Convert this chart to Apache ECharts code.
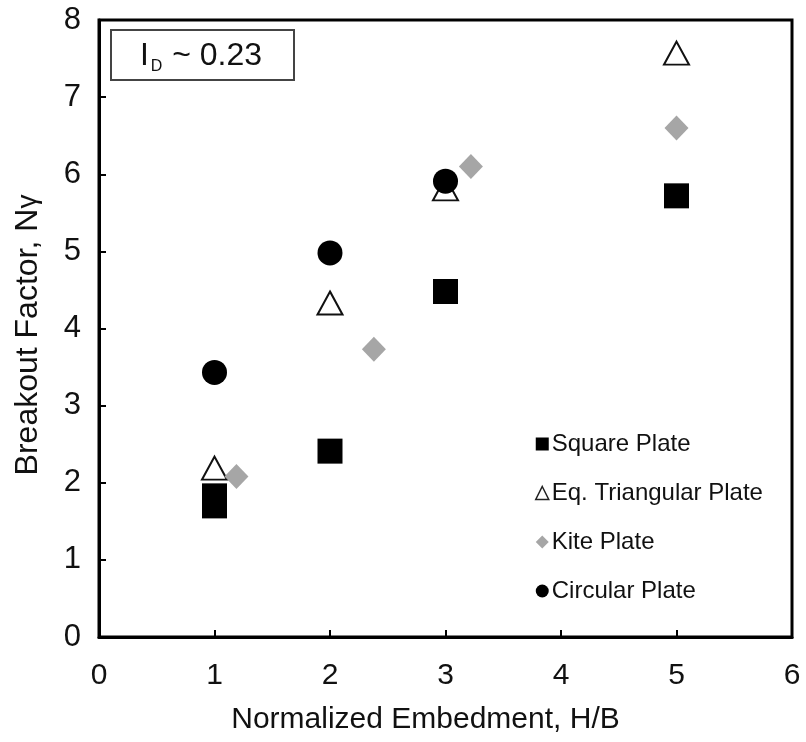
<!DOCTYPE html>
<html>
<head>
<meta charset="utf-8">
<script src="https://cdn.jsdelivr.net/npm/echarts@6/dist/echarts.min.js"></script>
<style>
html,body{margin:0;padding:0;background:#fff;}
#chart{width:806px;height:742px;}
</style>
</head>
<body>
<div id="chart"></div>
<script>
// ---- data ----
var seriesNames = ['Square Plate', 'Eq. Triangular Plate', 'Kite Plate', 'Circular Plate'];
var squareData = [[1, 1.83], [1, 1.70], [2, 2.41], [3, 4.48], [5, 5.72]];
var triangleData = [[1, 2.19], [2, 4.33], [3, 5.81], [5, 7.57]];
var kiteData = [[1.19, 2.08], [2.38, 3.73], [3.22, 6.10], [5, 6.60]];
var circleData = [[1, 3.43], [2, 4.98], [3, 5.91]];
var xTicks = [0, 1, 2, 3, 4, 5, 6];
var yTicks = [0, 1, 2, 3, 4, 5, 6, 7, 8];
var xTitle = 'Normalized Embedment, H/B';
var yTitle = 'Breakout Factor, N';
var annotation = ['I', 'D', ' ~ 0.23'];

var FONT = 'Liberation Sans, Arial, sans-serif';
var chart = echarts.init(document.getElementById('chart'), null, {renderer: 'canvas'});

var option = {
  backgroundColor: '#fff',
  animation: false,
  grid: {
    left: 99, top: 20, right: 14, bottom: 105,
    show: true, borderColor: '#000', borderWidth: 3, backgroundColor: 'transparent'
  },
  xAxis: {
    type: 'value',
    min: xTicks[0], max: xTicks[xTicks.length - 1], interval: 1,
    name: xTitle,
    nameLocation: 'middle',
    nameGap: 68,
    nameTextStyle: {fontFamily: FONT, fontSize: 30, color: '#111', padding: [0, 40, 0, 0]},
    axisLine: {show: true, lineStyle: {color: '#000', width: 3}},
    axisTick: {show: true, inside: true, length: 7, lineStyle: {color: '#000', width: 2}},
    axisLabel: {fontFamily: FONT, fontSize: 30, color: '#111', margin: 24},
    splitLine: {show: false}
  },
  yAxis: {
    type: 'value',
    min: yTicks[0], max: yTicks[yTicks.length - 1], interval: 1,
    name: yTitle + '{g|γ}',
    nameLocation: 'middle',
    nameGap: 55,
    nameRotate: 90,
    nameTextStyle: {
      fontFamily: FONT, fontSize: 32, color: '#111', padding: [0, 13, 0, 0],
      rich: {g: {fontFamily: FONT, fontSize: 28, color: '#111'}}
    },
    axisLine: {show: true, lineStyle: {color: '#000', width: 3}},
    axisTick: {show: true, inside: true, length: 7, lineStyle: {color: '#000', width: 2}},
    axisLabel: {fontFamily: FONT, fontSize: 31, color: '#111', margin: 18},
    splitLine: {show: false}
  },
  legend: {
    orient: 'vertical',
    left: 530, top: 427,
    itemWidth: 13, itemHeight: 13,
    itemGap: 25,
    textStyle: {fontFamily: FONT, fontSize: 24, color: '#111', padding: [0, 0, 0, -2]},
    data: [
      {name: seriesNames[0], icon: 'rect', itemStyle: {color: '#000'}},
      {name: seriesNames[1], icon: 'triangle', itemStyle: {color: '#fff', borderColor: '#222', borderWidth: 1.5}},
      {name: seriesNames[2], icon: 'diamond', itemStyle: {color: '#a6a6a6'}},
      {name: seriesNames[3], icon: 'circle', itemStyle: {color: '#000'}}
    ]
  },
  series: [
    {
      name: seriesNames[0], type: 'scatter', data: squareData,
      symbol: 'rect', symbolSize: 25,
      itemStyle: {color: '#000', opacity: 1}
    },
    {
      name: seriesNames[1], type: 'scatter', data: triangleData,
      symbol: 'triangle', symbolSize: [25, 23],
      itemStyle: {color: '#fff', borderColor: '#111', borderWidth: 2, opacity: 1}
    },
    {
      name: seriesNames[2], type: 'scatter', data: kiteData,
      symbol: 'diamond', symbolSize: [24, 25],
      itemStyle: {color: '#a6a6a6', opacity: 1}
    },
    {
      name: seriesNames[3], type: 'scatter', data: circleData,
      symbol: 'circle', symbolSize: 25,
      itemStyle: {color: '#000', opacity: 1}
    }
  ],
  graphic: [
    {
      type: 'group', left: 110, top: 29,
      children: [
        {type: 'rect', shape: {x: 0, y: 0, width: 183, height: 50},
         style: {fill: '#fff', stroke: '#444', lineWidth: 2}},
        {type: 'text', x: 90, y: 26,
         style: {
           text: '{a|' + annotation[0] + '}{b|' + annotation[1] + '}{a|' + annotation[2] + '}',
           align: 'center', verticalAlign: 'middle',
           rich: {
             a: {fontFamily: FONT, fontSize: 32, lineHeight: 36, fill: '#111'},
             b: {fontFamily: FONT, fontSize: 16, lineHeight: 16, padding: [22, 1, 0, 2], fill: '#111'}
           }
         }}
      ]
    }
  ]
};
chart.setOption(option);
</script>
</body>
</html>
